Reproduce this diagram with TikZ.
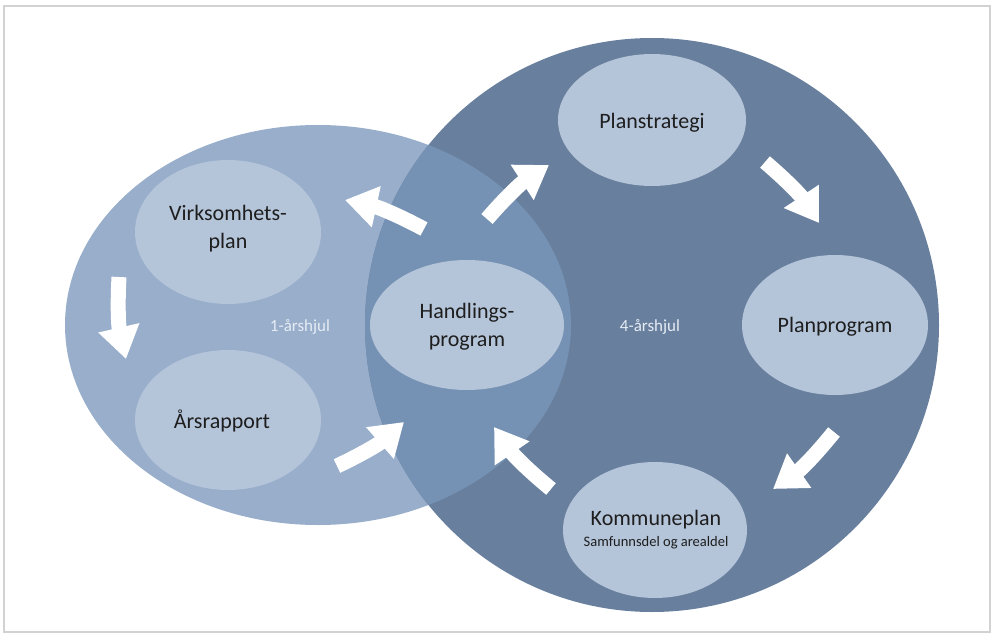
\documentclass[tikz,border=0pt]{standalone}
\usepackage{fontspec}
\setmainfont{Carlito}
\usetikzlibrary{arrows.meta,shapes.geometric}
\definecolor{framegray}{HTML}{D2D2D2}
\definecolor{smallc}{HTML}{98AECB}
\definecolor{bigc}{HTML}{687F9E}
\definecolor{overlapc}{HTML}{7592B4}
\definecolor{innerc}{HTML}{B4C4D9}
\definecolor{txtc}{HTML}{1E1E1E}
\definecolor{wheelc}{HTML}{E6ECF4}
\begin{document}
\begin{tikzpicture}[x=1pt,y=-1pt,
  inner/.style={ellipse, fill=innerc, draw=none, inner sep=0pt},
  lbl/.style={text=txtc, align=center, font=\fontsize{22}{28}\selectfont, inner sep=0pt},
  wheel/.style={text=wheelc, font=\fontsize{17}{20}\selectfont, inner sep=0pt},
  wa/.style={draw=white, line width=15pt, -{Triangle[width=40pt,length=32pt]}, fill=white}
]
\useasboundingbox (0,0) rectangle (994,634);
\draw[framegray, line width=1.5pt] (4,6) rectangle (990,632);
% wheels
\fill[smallc] (318,325) ellipse [x radius=253, y radius=200];
\fill[bigc] (652,325) circle [radius=287];
\begin{scope}
  \clip (318,325) ellipse [x radius=253, y radius=200];
  \fill[overlapc] (652,325) circle [radius=287];
\end{scope}
% inner ellipses
\node[inner, minimum width=188pt, minimum height=132pt] (plan) at (652,120) {};
\node[inner, minimum width=186pt, minimum height=140pt] (prog) at (835,325) {};
\node[inner, minimum width=184pt, minimum height=136pt] (komm) at (655,530) {};
\node[inner, minimum width=194pt, minimum height=130pt] (hand) at (467,325) {};
\node[inner, minimum width=186pt, minimum height=144pt] (virk) at (228,232) {};
\node[inner, minimum width=186pt, minimum height=140pt] (aars) at (228,420) {};
% labels
\node[lbl] (plantxt) at (652,123) {Planstrategi};
\node[lbl] (progtxt) at (835,327) {Planprogram};
\node[lbl] (handtxt) at (467,327) {Handlings-\\program};
\node[lbl] (virktxt) at (228,229) {Virksomhets-\\plan};
\node[lbl] (aarstxt) at (222,421) {Årsrapport};
\node[lbl] (kommtxt) at (656,520) {Kommuneplan};
\node[text=txtc, inner sep=0pt, font=\fontsize{14.5}{16}\selectfont] (kommsub) at (656,543) {Samfunnsdel og arealdel};
\node[wheel] (one) at (300,327) {1-årshjul};
\node[wheel] (four) at (650,327) {4-årshjul};
% arrow end points
\coordinate (a1s) at (424,229); \coordinate (a1e) at (345,200);
\coordinate (a2s) at (487,219); \coordinate (a2e) at (549,165);
\coordinate (a3s) at (765,162); \coordinate (a3e) at (819,223);
\coordinate (a4s) at (834,432); \coordinate (a4e) at (773,489);
\coordinate (a5s) at (551,489); \coordinate (a5e) at (494,427);
\coordinate (a6s) at (337,466); \coordinate (a6e) at (404,422);
\coordinate (a7s) at (119,277); \coordinate (a7e) at (126,359);
% arrows
\draw[wa] (a1s) to[bend right=8] (a1e);
\draw[wa] (a2s) to[bend left=8] (a2e);
\draw[wa] (a3s) to[bend left=8] (a3e);
\draw[wa] (a4s) to[bend left=8] (a4e);
\draw[wa] (a5s) to[bend left=8] (a5e);
\draw[wa] (a6s) to[bend right=8] (a6e);
\draw[wa] (a7s) to[bend right=8] (a7e);
\end{tikzpicture}
\end{document}
